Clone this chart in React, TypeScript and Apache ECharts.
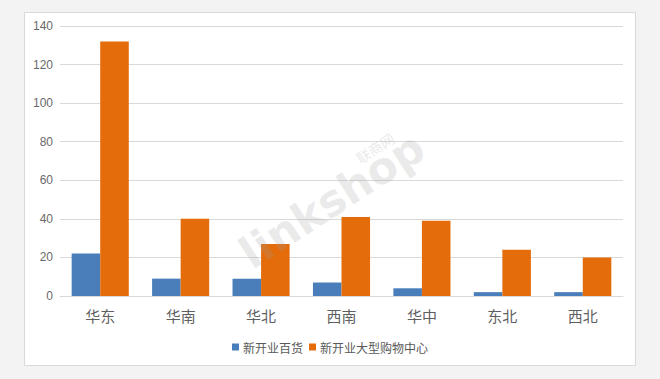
import React, { useEffect, useRef } from "react";
import * as echarts from "echarts";

const categories = ["华东", "华南", "华北", "西南", "华中", "东北", "西北"];
const seriesNames = ["新开业百货", "新开业大型购物中心"];
const deptStore = [22, 9, 9, 7, 4, 2, 2];
const mall = [132, 40, 27, 41, 39, 24, 20];
const yTicks = { min: 0, max: 140, interval: 20 };

export default function App() {
  const ref = useRef<HTMLDivElement>(null);
  useEffect(() => {
    if (!ref.current) return;
    const chart = echarts.init(ref.current, undefined, { renderer: "svg" });
    const font = "'Microsoft YaHei', 'Noto Sans CJK SC', 'Noto Sans', sans-serif";
    const rot = (33 * Math.PI) / 180;
    chart.setOption({
      animation: false,
      backgroundColor: "#f3f3f3",
      graphic: [
        {
          type: "rect",
          z: -10,
          shape: { x: 24.5, y: 12.5, width: 611, height: 353 },
          style: { fill: "#ffffff", stroke: "#d9d9d9", lineWidth: 1 },
        },
        {
          type: "text",
          z: 10,
          x: 332,
          y: 200,
          rotation: rot,
          style: {
            text: "linkshop",
            font: "bold 44px 'DejaVu Sans', sans-serif",
            fill: "rgba(160,160,160,0.22)",
            align: "center",
            verticalAlign: "middle",
          },
        },
        {
          type: "text",
          z: 10,
          x: 375,
          y: 148,
          rotation: rot,
          style: {
            text: "联商网",
            font: "14px 'Noto Sans CJK SC', sans-serif",
            fill: "rgba(160,160,160,0.25)",
            align: "center",
            verticalAlign: "middle",
          },
        },
      ],
      grid: { left: 60, right: 37, top: 26, bottom: 83, containLabel: false },
      legend: {
        bottom: 21,
        left: "center",
        itemWidth: 7,
        itemHeight: 7,
        itemGap: 6,
        icon: "rect",
        textStyle: { color: "#595959", fontSize: 12, fontFamily: font, padding: [0, 0, 0, -1] },
        data: seriesNames,
      },
      xAxis: {
        type: "category",
        data: categories,
        axisLine: { lineStyle: { color: "#d9d9d9" } },
        axisTick: { show: false },
        axisLabel: { color: "#5f5f5f", fontSize: 15, margin: 12, fontFamily: font },
      },
      yAxis: {
        type: "value",
        min: yTicks.min,
        max: yTicks.max,
        interval: yTicks.interval,
        axisLine: { show: false },
        axisTick: { show: false },
        splitLine: { lineStyle: { color: "#d9d9d9" } },
        axisLabel: { color: "#6a6a6a", fontSize: 12, margin: 7, fontFamily: "'Liberation Sans', Arial, sans-serif" },
      },
      series: [
        {
          name: seriesNames[0],
          type: "bar",
          data: deptStore,
          barWidth: "35.5%",
          barGap: "0%",
          itemStyle: { color: "#4a7ebb" },
        },
        {
          name: seriesNames[1],
          type: "bar",
          data: mall,
          barWidth: "35.5%",
          barGap: "0%",
          itemStyle: { color: "#e46c0a" },
        },
      ],
    });
    return () => chart.dispose();
  }, []);
  return (
    <div
      ref={ref}
      style={{ position: "absolute", left: 0, top: 0, width: 660, height: 379 }}
    />
  );
}
